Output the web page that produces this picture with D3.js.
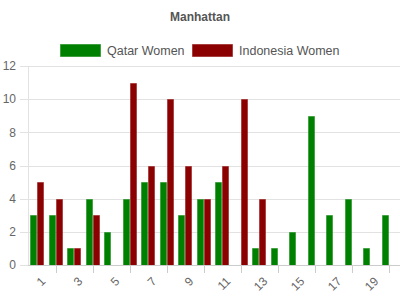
<!DOCTYPE html>
<html><head><meta charset="utf-8">
<script src="https://cdn.jsdelivr.net/npm/d3@7"></script>
<style>
html,body{margin:0;padding:0;background:#fff;}
svg{display:block;font-family:"Liberation Sans",Arial,sans-serif;}
</style></head>
<body><svg id="c" width="400" height="300"></svg>
<script>
const categories = d3.range(1, 21).map(String);
const seriesNames = ["Qatar Women", "Indonesia Women"];
const qatar = [3,3,1,4,2,4,5,5,3,4,5,0,1,1,2,9,3,4,1,3];
const indonesia = [5,4,1,3,0,11,6,10,6,4,6,10,4,0,0,0,0,0,0,0];
const colors = ["#008000", "#8b0000"];
const yTicks = [0,2,4,6,8,10,12];
const xLabels = categories.filter((d,i)=>i%2===0);
const xTickCats = categories.filter((d,i)=>i%2===1);

const svg = d3.select("#c");
const L = 28, R = 398, T = 66, B = 265;
const x = d3.scaleBand().domain(categories).range([L, R]).padding(0);
const y = d3.scaleLinear().domain([0, 12]).range([B, T]);
const sub = d3.scaleBand().domain(seriesNames).range([0, 14]);

// title
svg.append("text").attr("x", 200).attr("y", 21).attr("text-anchor", "middle")
  .attr("font-size", 12).attr("font-weight", "bold").attr("fill", "#555").text("Manhattan");

// legend
const leg = [{n: seriesNames[0], c: colors[0], x: 60}, {n: seriesNames[1], c: colors[1], x: 192}];
leg.forEach(l => {
  svg.append("rect").attr("x", l.x + 0.5).attr("y", 44.5).attr("width", 40).attr("height", 12)
    .attr("fill", l.c).attr("stroke", l.c).attr("stroke-opacity", 0.5).attr("stroke-width", 1);
  svg.append("text").attr("x", l.x + 47).attr("y", 54.5).attr("font-size", 12.5)
    .attr("fill", "#555").text(l.n);
});

// gridlines
svg.append("g").selectAll("line").data(yTicks).join("line")
  .attr("x1", 20).attr("x2", 400)
  .attr("y1", d => Math.round(y(d)) + 0.5).attr("y2", d => Math.round(y(d)) + 0.5)
  .attr("stroke", "#e2e2e2");
// y axis line
svg.append("line").attr("x1", L + 0.5).attr("x2", L + 0.5).attr("y1", T).attr("y2", B)
  .attr("stroke", "#e2e2e2");
// y labels
svg.append("g").selectAll("text").data(yTicks).join("text")
  .attr("x", 16).attr("y", d => y(d)).attr("dy", "0.35em").attr("text-anchor", "end")
  .attr("font-size", 12).attr("fill", "#666").text(d => d);

// bars
const data = categories.map((c, i) => ({c, v: [qatar[i], indonesia[i]]}));
const g = svg.append("g");
data.forEach(d => {
  const cx = x(d.c) + x.bandwidth() / 2 - 7;
  d.v.forEach((v, j) => {
    if (v <= 0) return;
    const bx = Math.round(cx + sub(seriesNames[j]));
    const by = Math.round(y(v));
    g.append("rect").attr("x", bx + 0.5).attr("y", by + 0.5)
      .attr("width", sub.bandwidth() - 1).attr("height", B - by)
      .attr("fill", colors[j]).attr("stroke", colors[j]).attr("stroke-opacity", 0.45);
  });
});

// x axis line
svg.append("line").attr("x1", L).attr("x2", 400).attr("y1", B + 0.5).attr("y2", B + 0.5)
  .attr("stroke", "#ccc");
// x tick marks
svg.append("g").selectAll("line").data(xTickCats).join("line")
  .attr("x1", d => Math.round(x(d) + x.bandwidth()/2) + 0.5)
  .attr("x2", d => Math.round(x(d) + x.bandwidth()/2) + 0.5)
  .attr("y1", B).attr("y2", B + 8).attr("stroke", "#ccc");
// x labels
svg.append("g").selectAll("text").data(xLabels).join("text")
  .attr("transform", d => `translate(${x(d) + x.bandwidth()/2 + 6},${B + 14}) rotate(-45)`)
  .attr("text-anchor", "end").attr("dy", "0.35em")
  .attr("font-size", 12).attr("fill", "#666").text(d => d);
</script></body></html>
